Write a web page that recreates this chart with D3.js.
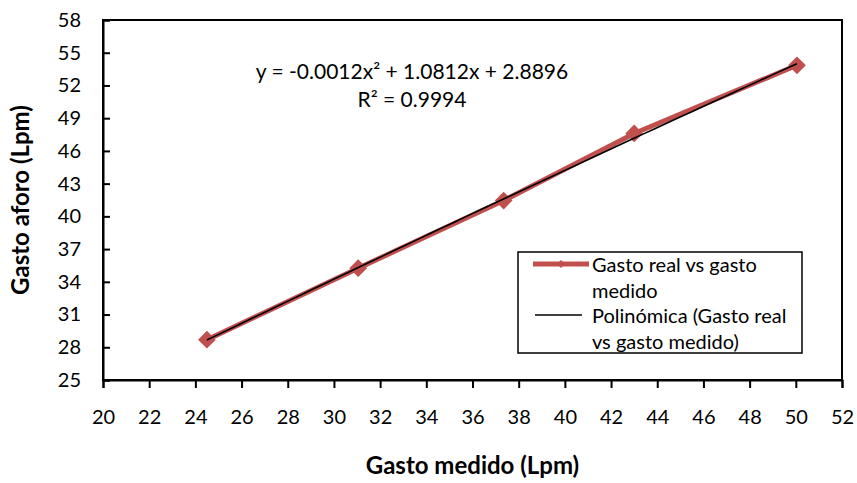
<!DOCTYPE html>
<html>
<head>
<meta charset="utf-8">
<script src="https://cdn.jsdelivr.net/npm/d3@7"></script>
<style>
  body { margin: 0; background: #fff; }
  text { font-family: Lato, "Open Sans", sans-serif; fill: #000; }
</style>
</head>
<body>
<div id="container"></div>
<script>
// data
const gastoMedido = [24.5, 31.05, 37.35, 43.0, 50.05];
const gastoAforo = [28.7, 35.25, 41.45, 47.6, 53.85];
const xTicks = [20, 22, 24, 26, 28, 30, 32, 34, 36, 38, 40, 42, 44, 46, 48, 50, 52];
const yTicks = [25, 28, 31, 34, 37, 40, 43, 46, 49, 52, 55, 58];
// polynomial trendline shown on the chart: c2*x^2 + c1*x + c0
const trendCoef = [2.8896, 1.0812, -0.0012];
const equationText = ["y = -0.0012x² + 1.0812x + 2.8896", "R² = 0.9994"];
const legendLabels = [["Gasto real vs gasto", "medido"], ["Polinómica (Gasto real", "vs gasto medido)"]];

const width = 857, height = 483;
const margin = { top: 20, right: 15, bottom: 103, left: 103 };

const svg = d3.select("#container").append("svg")
  .attr("width", width).attr("height", height);

const x = d3.scaleLinear().domain([20, 52]).range([margin.left, width - margin.right]);
const y = d3.scaleLinear().domain([25, 58]).range([height - margin.bottom, margin.top]);

const red = "#C0504D";

// frame
svg.append("rect")
  .attr("x", x(20)).attr("y", y(58))
  .attr("width", x(52) - x(20)).attr("height", y(25) - y(58))
  .attr("fill", "none").attr("stroke", "#000").attr("stroke-width", 2);

// x axis
const xAxis = svg.append("g")
  .attr("transform", `translate(0, ${y(25)})`)
  .call(d3.axisBottom(x).tickValues(xTicks).tickSize(8).tickPadding(22));
xAxis.select(".domain").attr("stroke-width", 2);
xAxis.selectAll(".tick line").attr("stroke-width", 2);
xAxis.selectAll("text").attr("font-size", "20px").attr("font-family", "Lato");

// y axis (ticks inside)
const yAxis = svg.append("g")
  .attr("transform", `translate(${x(20)}, 0)`)
  .call(d3.axisRight(y).tickValues(yTicks).tickSize(7));
yAxis.select(".domain").attr("stroke-width", 2);
yAxis.selectAll(".tick line").attr("stroke-width", 2);
yAxis.selectAll("text")
  .attr("x", -22).attr("text-anchor", "end")
  .attr("font-size", "20px").attr("font-family", "Lato");

// axis titles
svg.append("text")
  .attr("x", x(36)).attr("y", 474)
  .attr("text-anchor", "middle")
  .attr("font-size", "24px").attr("font-weight", "bold")
  .text("Gasto medido (Lpm)");
svg.append("text")
  .attr("transform", `translate(29, ${y(41.5)}) rotate(-90)`)
  .attr("text-anchor", "middle")
  .attr("font-size", "24px").attr("font-weight", "bold")
  .text("Gasto aforo (Lpm)");

// data series
const pts = gastoMedido.map((d, i) => [d, gastoAforo[i]]);
const line = d3.line().x((d) => x(d[0])).y((d) => y(d[1]));
svg.append("path")
  .datum(pts)
  .attr("d", line)
  .attr("fill", "none").attr("stroke", red).attr("stroke-width", 5);

const diamond = d3.symbol().type(d3.symbolDiamond2).size(200);
svg.selectAll(".marker")
  .data(pts)
  .enter()
  .append("path")
  .attr("class", "marker")
  .attr("d", diamond)
  .attr("transform", (d) => `translate(${x(d[0])}, ${y(d[1])})`)
  .attr("fill", red);

// trendline
const poly = (v) => trendCoef[0] + trendCoef[1] * v + trendCoef[2] * v * v;
const xMin = d3.min(gastoMedido), xMax = d3.max(gastoMedido);
const trendPts = d3.range(0, 51).map((i) => {
  const v = xMin + (xMax - xMin) * i / 50;
  return [v, poly(v)];
});
svg.append("path")
  .datum(trendPts)
  .attr("d", line)
  .attr("fill", "none").attr("stroke", "#000").attr("stroke-width", 1.6);

// equation
svg.selectAll(".eq")
  .data(equationText)
  .enter()
  .append("text")
  .attr("class", "eq")
  .attr("x", 412)
  .attr("y", (d, i) => 79 + i * 28)
  .attr("text-anchor", "middle")
  .attr("font-size", "21px")
  .text((d) => d);

// legend
const legend = svg.append("g");
legend.append("rect")
  .attr("x", 518).attr("y", 252).attr("width", 284).attr("height", 101)
  .attr("fill", "#fff").attr("stroke", "#000").attr("stroke-width", 1.5);
legend.append("line")
  .attr("x1", 533).attr("x2", 589).attr("y1", 264).attr("y2", 264)
  .attr("stroke", red).attr("stroke-width", 5);
legend.append("path")
  .attr("d", d3.symbol().type(d3.symbolDiamond2).size(40))
  .attr("transform", "translate(561, 264)")
  .attr("fill", red);
legend.append("line")
  .attr("x1", 535).attr("x2", 582).attr("y1", 315).attr("y2", 315)
  .attr("stroke", "#000").attr("stroke-width", 1.5);
legendLabels.forEach((lines, k) => {
  lines.forEach((t, j) => {
    legend.append("text")
      .attr("x", 592)
      .attr("y", 272 + (k * 2 + j) * 25.7)
      .attr("font-size", "20px")
      .text(t);
  });
});
</script>
</body>
</html>
